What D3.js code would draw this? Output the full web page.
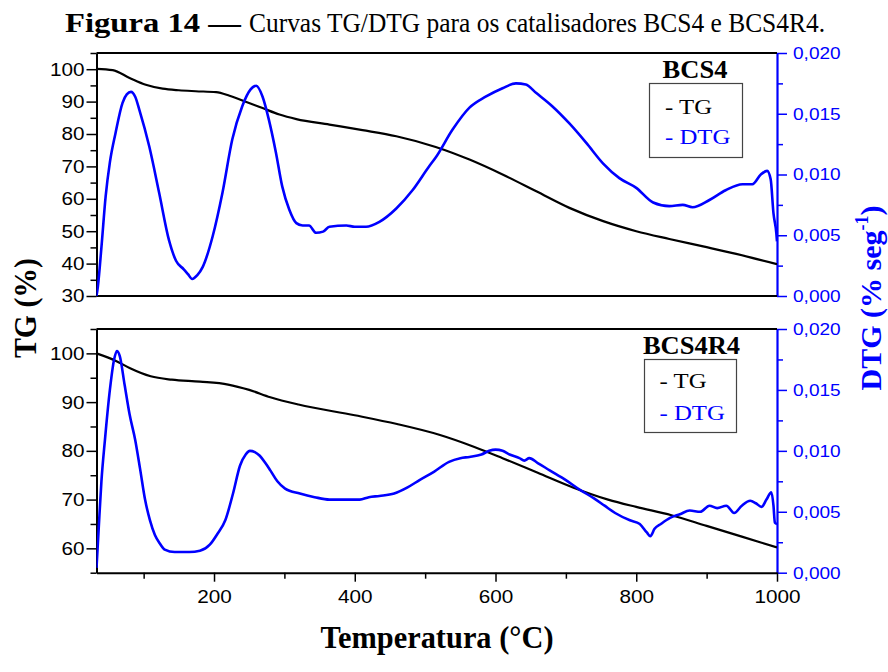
<!DOCTYPE html>
<html><head><meta charset="utf-8">
<script src="https://cdn.jsdelivr.net/npm/d3@7/dist/d3.min.js"></script>
<style>body{margin:0;background:#fff}svg{display:block}
.sans{font-family:"Liberation Sans", Arial, Helvetica, sans-serif}
.serif{font-family:"Liberation Serif", "Times New Roman", Times, serif}
</style>
</head><body>
<svg id="c" width="888" height="672"></svg>
<script>
// ---------- DATA ----------
const panelNames = ["BCS4", "BCS4R4"];
const legendLabels = ["- TG", "- DTG"];
const xMajorTicks = [200, 400, 600, 800, 1000];
const xMinorTicks = [100, 300, 500, 700, 900];
const tgTicksTop = [30, 40, 50, 60, 70, 80, 90, 100];
const tgTicksBottom = [60, 70, 80, 90, 100];
const dtgTicks = [0, 0.005, 0.010, 0.015, 0.020];

// BCS4 TG (%)
const tgTopT = [33,56,80,103,127,150,174,203,222,246,269,293,317,364,411,459,515,563,610,658,705,753,800,847,895,942,1000];
const tgTopV = [100.1,99.7,97.3,95.2,94.0,93.5,93.2,92.9,91.8,89.9,88.0,86.0,84.6,82.9,81.2,79.3,76.0,72.1,67.5,62.3,57.2,53.1,50.0,47.6,45.3,43.0,39.8];
// BCS4 DTG (% seg-1)
const dtgTopT = [33,35,40,46,52,60,70,76,82,88,94,108,122,136,146,157,163,169,176,184,198,212,226,240,252,260,269,278,288,297,307,317,326,335,345,355,364,388,400,416,435,459,482,506,515,539,563,586,610,629,643,658,681,705,729,753,776,800,824,847,866,880,904,927,951,965,977,986,991,995,999,1000];
const dtgTopV = [0.0000,0.0008,0.0040,0.0082,0.0110,0.0134,0.0159,0.0166,0.0168,0.0164,0.0153,0.0123,0.0085,0.0046,0.0029,0.0022,0.0018,0.0014,0.0017,0.0024,0.0049,0.0085,0.0129,0.0156,0.0170,0.0173,0.0164,0.0145,0.0118,0.0090,0.0071,0.0060,0.0058,0.0058,0.0052,0.0053,0.0057,0.0058,0.0057,0.0057,0.0061,0.0072,0.0087,0.0107,0.0114,0.0137,0.0155,0.0164,0.0171,0.0175,0.0174,0.0167,0.0156,0.0142,0.0126,0.0109,0.0097,0.0089,0.0077,0.0074,0.0075,0.0073,0.0079,0.0087,0.0092,0.0092,0.0100,0.0103,0.0096,0.0068,0.0052,0.0045];

// BCS4R4 TG (%)
const tgBotT = [33,60,80,110,140,180,220,250,280,320,400,460,520,570,610,660,710,760,800,850,900,950,1000];
const tgBotV = [100,98.5,97.0,95.3,94.6,94.2,93.6,92.5,91.0,89.5,87.3,85.5,83.3,80.8,78.5,75.5,72.5,70.0,68.5,66.8,64.6,62.4,60.2];
// BCS4R4 DTG (% seg-1)
const dtgBotT = [33,36,40,45,52,58,62,66,73,80,88,95,102,109,116,123,130,144,165,180,194,205,216,227,237,245,251,258,265,273,280,290,301,322,343,364,386,407,420,435,456,475,492,513,534,550,563,580,591,600,610,620,634,641,648,660,677,700,720,740,755,770,791,805,815,820,826,835,848,862,876,891,904,915,928,939,950,962,970,978,985,992,995,997,1000];
const dtgBotV = [0.0004,0.0035,0.0075,0.0109,0.0150,0.0175,0.0182,0.0178,0.0154,0.0130,0.0109,0.0085,0.0060,0.0043,0.0031,0.0024,0.0019,0.0017,0.0017,0.0018,0.0023,0.0032,0.0043,0.0065,0.0088,0.0097,0.0100,0.0099,0.0096,0.0090,0.0084,0.0075,0.0069,0.0065,0.0062,0.0060,0.0060,0.0060,0.0062,0.0063,0.0065,0.0070,0.0076,0.0083,0.0091,0.0094,0.0095,0.0097,0.0100,0.0101,0.0100,0.0097,0.0094,0.0092,0.0094,0.0090,0.0084,0.0076,0.0068,0.0061,0.0055,0.0049,0.0043,0.0040,0.0033,0.0030,0.0036,0.0040,0.0045,0.0048,0.0051,0.0050,0.0055,0.0053,0.0055,0.0049,0.0055,0.0059,0.0057,0.0054,0.0060,0.0066,0.0055,0.0041,0.0040];

// ---------- LAYOUT ----------
const W = 888, H = 672;
const X0 = 96.5, X1 = 777;
const BLUE = "#0000ff";

const svg = d3.select("#c");
svg.append("rect").attr("width", W).attr("height", H).attr("fill", "#fff");

const x = d3.scaleLinear().domain([33, 1000]).range([X0, X1]);

const panels = [
  { top: 53, bottom: 296, tgDomain: [30, 105], tgTicks: tgTicksTop,
    tgT: tgTopT, tgV: tgTopV, dT: dtgTopT, dV: dtgTopV, name: panelNames[0],
    nameX: 695, nameY: 78, box: [649.5, 83.5, 93, 74], legX: 665, legY: [113.5, 143.5], xAxis: false },
  { top: 329, bottom: 572.7, tgDomain: [55, 105], tgTicks: tgTicksBottom,
    tgT: tgBotT, tgV: tgBotV, dT: dtgBotT, dV: dtgBotV, name: panelNames[1],
    nameX: 691.5, nameY: 354, box: [644.5, 359.5, 92, 73], legX: 659.5, legY: [388, 420], xAxis: true }
];

function stretch(sel, k) {
  sel.each(function () {
    const L = this.getComputedTextLength();
    d3.select(this).attr("textLength", L * k).attr("lengthAdjust", "spacingAndGlyphs");
  });
}

panels.forEach(p => {
  const yTG = d3.scaleLinear().domain(p.tgDomain).range([p.bottom, p.top]);
  const yD = d3.scaleLinear().domain([0, 0.020]).range([p.bottom, p.top]);
  const g = svg.append("g");

  // minor left ticks
  const minorTG = d3.range(Math.ceil(p.tgDomain[0] / 5) * 5, p.tgDomain[1] + 0.01, 5).filter(v => v % 10 !== 0);
  g.append("g").attr("transform", `translate(${X0},0)`)
    .call(d3.axisLeft(yTG).tickValues(minorTG).tickSize(6).tickSizeOuter(0).tickFormat(""))
    .call(a => a.select(".domain").remove())
    .call(a => a.selectAll("line").attr("stroke", "#000").attr("stroke-width", 1.5));
  const la = g.append("g").attr("transform", `translate(${X0},0)`)
    .call(d3.axisLeft(yTG).tickValues(p.tgTicks).tickSize(10).tickSizeOuter(0).tickPadding(2).tickFormat(d3.format("d")));
  la.attr("font-family", null).attr("font-size", null);
  la.select(".domain").attr("stroke", "#000").attr("stroke-width", 2);
  la.selectAll("line").attr("stroke", "#000").attr("stroke-width", 1.5);
  la.selectAll("text").attr("class", "sans").attr("font-size", 18.5).attr("fill", "#000").call(stretch, 1.12);

  // right DTG axis
  const minorD = [0.0025, 0.0075, 0.0125, 0.0175];
  g.append("g").attr("transform", `translate(${X1},0)`)
    .call(d3.axisRight(yD).tickValues(minorD).tickSize(6).tickSizeOuter(0).tickFormat(""))
    .call(a => a.select(".domain").remove())
    .call(a => a.selectAll("line").attr("stroke", BLUE).attr("stroke-width", 1.5));
  const ra = g.append("g").attr("transform", `translate(${X1},0)`)
    .call(d3.axisRight(yD).tickValues(dtgTicks).tickSize(10).tickSizeOuter(0).tickPadding(6)
      .tickFormat(d => d3.format(".3f")(d).replace(".", ",")));
  ra.attr("font-family", null).attr("font-size", null);
  ra.select(".domain").attr("stroke", BLUE).attr("stroke-width", 2.2);
  ra.selectAll("line").attr("stroke", BLUE).attr("stroke-width", 1.5);
  ra.selectAll("text").attr("class", "sans").attr("font-size", 17).attr("fill", BLUE).call(stretch, 1.12);

  // top border and bottom line
  g.append("line").attr("x1", X0).attr("x2", X1).attr("y1", p.top).attr("y2", p.top)
    .attr("stroke", "#000").attr("stroke-width", 2);
  if (p.xAxis) {
    g.append("g").attr("transform", `translate(0,${p.bottom})`)
      .call(d3.axisBottom(x).tickValues(xMinorTicks).tickSize(6).tickSizeOuter(0).tickFormat(""))
      .call(a => a.select(".domain").remove())
      .call(a => a.selectAll("line").attr("stroke", "#000").attr("stroke-width", 1.5));
    const ba = g.append("g").attr("transform", `translate(0,${p.bottom})`)
      .call(d3.axisBottom(x).tickValues(xMajorTicks).tickSize(9).tickSizeOuter(0).tickPadding(8).tickFormat(d3.format("d")));
    ba.attr("font-family", null).attr("font-size", null);
    ba.select(".domain").attr("stroke", "#000").attr("stroke-width", 2);
    ba.selectAll("line").attr("stroke", "#000").attr("stroke-width", 1.5);
    ba.selectAll("text").attr("class", "sans").attr("font-size", 18.5).attr("fill", "#000").call(stretch, 1.12);
  } else {
    g.append("line").attr("x1", X0).attr("x2", X1).attr("y1", p.bottom).attr("y2", p.bottom)
      .attr("stroke", "#000").attr("stroke-width", 2);
  }

  // curves
  const clipId = "clip" + Math.round(p.top);
  svg.append("clipPath").attr("id", clipId).append("rect")
    .attr("x", X0).attr("y", p.top).attr("width", X1 - X0).attr("height", p.bottom - p.top);
  const tgData = p.tgT.map((t, i) => [t, p.tgV[i]]);
  const dData = p.dT.map((t, i) => [t, p.dV[i]]);
  g.append("path").datum(tgData).attr("clip-path", `url(#${clipId})`)
    .attr("fill", "none").attr("stroke", "#000").attr("stroke-width", 2.2)
    .attr("d", d3.line().x(d => x(d[0])).y(d => yTG(d[1])).curve(d3.curveMonotoneX));
  g.append("path").datum(dData).attr("clip-path", `url(#${clipId})`)
    .attr("fill", "none").attr("stroke", BLUE).attr("stroke-width", 2.6).attr("stroke-linejoin", "round")
    .attr("d", d3.line().x(d => x(d[0])).y(d => yD(d[1])).curve(d3.curveMonotoneX));

  // legend
  g.append("text").attr("x", p.nameX).attr("y", p.nameY).attr("text-anchor", "middle")
    .attr("class", "serif").attr("font-weight", "bold").attr("font-size", 25).attr("fill", "#000")
    .text(p.name).call(stretch, 1.06);
  g.append("rect").attr("x", p.box[0]).attr("y", p.box[1]).attr("width", p.box[2]).attr("height", p.box[3])
    .attr("fill", "#fff").attr("stroke", "#444").attr("stroke-width", 1.2);
  legendLabels.forEach((lab, i) => {
    g.append("text").attr("x", p.legX).attr("y", p.legY[i])
      .attr("class", "serif").attr("font-size", 21).attr("fill", i === 0 ? "#000" : BLUE)
      .text(lab).call(stretch, 1.18);
  });
});

// title
svg.append("text").attr("x", 65).attr("y", 32).attr("class", "serif").attr("font-size", 28)
  .attr("font-weight", "bold").attr("fill", "#000").attr("textLength", 176).attr("lengthAdjust", "spacingAndGlyphs")
  .text("Figura 14 —");
svg.append("text").attr("x", 249).attr("y", 32).attr("class", "serif").attr("font-size", 28)
  .attr("fill", "#000").attr("textLength", 576).attr("lengthAdjust", "spacingAndGlyphs")
  .text("Curvas TG/DTG para os catalisadores BCS4 e BCS4R4.");

// x label
svg.append("text").attr("x", 437).attr("y", 648).attr("text-anchor", "middle")
  .attr("class", "serif").attr("font-weight", "bold").attr("font-size", 32).attr("fill", "#000")
  .attr("textLength", 233).attr("lengthAdjust", "spacingAndGlyphs")
  .text("Temperatura (°C)");

// left y label
svg.append("text").attr("transform", "translate(36,308) rotate(-90)").attr("text-anchor", "middle")
  .attr("class", "serif").attr("font-weight", "bold").attr("font-size", 31).attr("fill", "#000")
  .attr("textLength", 100).attr("lengthAdjust", "spacingAndGlyphs")
  .text("TG (%)");

// right y label
const rl = svg.append("text").attr("transform", "translate(881,298) rotate(-90)").attr("text-anchor", "middle")
  .attr("class", "serif").attr("font-weight", "bold").attr("font-size", 30).attr("fill", BLUE);
rl.append("tspan").text("DTG (% seg");
rl.append("tspan").attr("font-size", 18).attr("dy", -13).text("-1");
rl.append("tspan").attr("dy", 13).text(")");
</script>
</body></html>
